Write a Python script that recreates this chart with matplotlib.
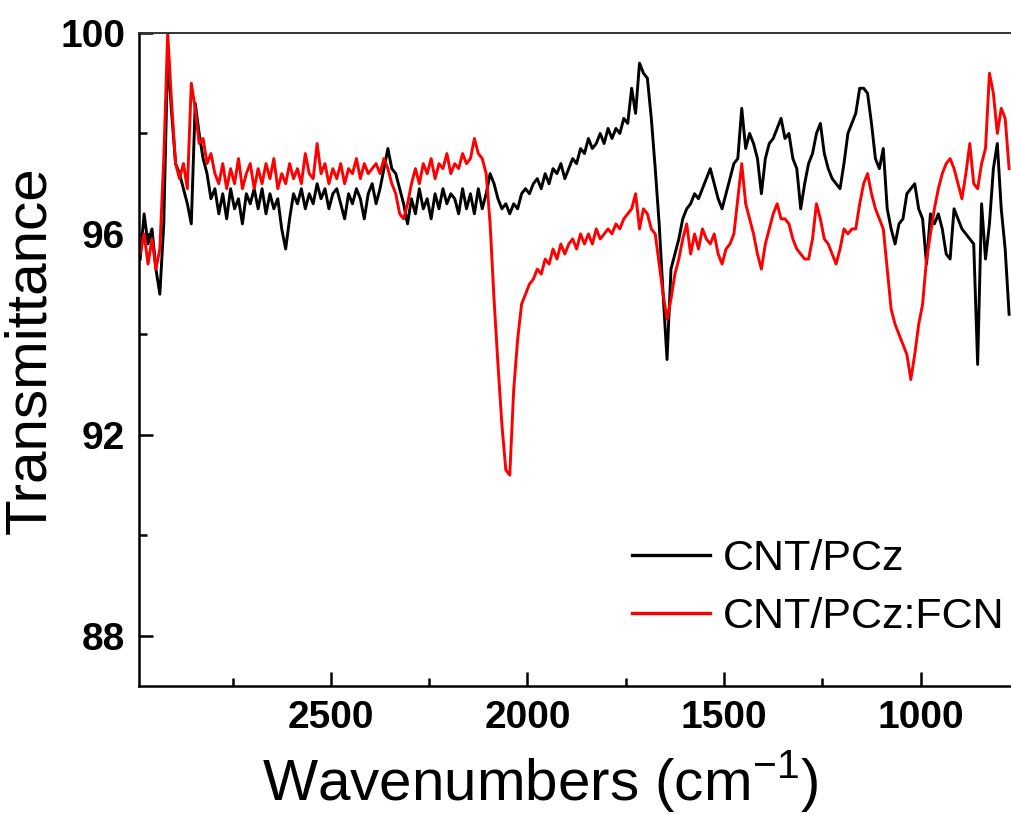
import numpy as np
import matplotlib
matplotlib.use("Agg")
import matplotlib.pyplot as plt
from matplotlib.ticker import MultipleLocator

# wavenumber grid (cm-1), one reading every 10 cm-1
wavenumbers = np.arange(2985, 770, -10)

# CNT/PCz (black)
cnt_pcz = [
    95.5, 96.4, 95.8, 96.1, 95.3, 94.8, 96.2, 99.6, 98.4, 97.4,
    97.2, 96.9, 96.6, 96.2, 98.6, 98.0, 97.5, 97.2, 96.7, 96.9,
    96.4, 96.8, 96.3, 96.9, 96.5, 96.7, 96.2, 96.8, 96.6, 96.9,
    96.5, 96.9, 96.4, 96.8, 96.5, 96.7, 96.1, 95.7, 96.3, 96.8,
    96.6, 96.9, 96.5, 96.8, 96.6, 97.0, 96.7, 96.9, 96.5, 96.8,
    96.9, 96.6, 96.3, 96.8, 96.6, 96.9, 96.7, 96.3, 96.8, 97.0,
    96.6, 96.9, 97.3, 97.7, 97.3, 97.2, 96.9, 96.6, 96.2, 96.7,
    96.4, 96.9, 96.5, 96.7, 96.3, 96.8, 96.5, 96.9, 96.6, 96.8,
    96.7, 96.4, 96.9, 96.5, 96.8, 96.4, 96.9, 96.5, 96.8, 97.2,
    97.0, 96.7, 96.5, 96.6, 96.4, 96.6, 96.5, 96.8, 96.9, 96.8,
    97.0, 97.1, 96.9, 97.2, 97.0, 97.3, 97.2, 97.4, 97.1, 97.3,
    97.5, 97.4, 97.7, 97.6, 97.9, 97.7, 97.8, 98.0, 97.8, 98.1,
    97.9, 98.1, 98.0, 98.3, 98.2, 98.9, 98.4, 99.4, 99.2, 99.1,
    98.3, 97.3, 96.2, 94.8, 93.5, 95.3, 95.6, 95.9, 96.3, 96.5,
    96.6, 96.8, 96.7, 96.9, 97.1, 97.3, 97.0, 96.7, 96.5, 96.8,
    97.1, 97.4, 97.5, 98.5, 97.7, 98.0, 97.8, 97.5, 96.8, 97.5,
    97.8, 97.9, 98.1, 98.3, 97.9, 98.0, 97.5, 97.3, 96.5, 97.0,
    97.4, 97.6, 98.0, 98.2, 97.6, 97.3, 97.1, 97.0, 96.9, 97.4,
    98.0, 98.2, 98.4, 98.9, 98.9, 98.8, 98.2, 97.5, 97.3, 97.7,
    96.5, 96.1, 95.8, 96.2, 96.3, 96.8, 96.9, 97.0, 96.5, 96.3,
    95.4, 96.4, 96.2, 96.4, 96.1, 95.6, 95.5, 96.5, 96.3, 96.1,
    96.0, 95.9, 95.8, 93.4, 96.6, 95.5, 96.2, 97.3, 97.8, 96.5, 95.7, 94.4,
]

# CNT/PCz:FCN (red)
cnt_pcz_fcn = [
    95.6, 96.0, 95.4, 95.9, 95.3, 95.7, 97.5, 100.0, 98.6, 97.4,
    97.1, 97.4, 96.9, 99.0, 98.5, 97.8, 97.9, 97.4, 97.6, 97.2,
    97.0, 97.4, 96.9, 97.3, 97.0, 97.5, 96.9, 97.2, 97.4, 96.9,
    97.3, 97.0, 97.4, 97.1, 97.5, 96.9, 97.2, 97.0, 97.4, 97.1,
    97.3, 97.0, 97.6, 97.2, 97.1, 97.8, 97.2, 97.4, 97.0, 97.3,
    97.1, 97.4, 97.0, 97.3, 97.2, 97.5, 97.1, 97.4, 97.2, 97.3,
    97.4, 97.2, 97.5, 97.3, 97.0, 96.8, 96.4, 96.3, 96.6, 97.0,
    97.3, 97.0, 97.4, 97.2, 97.5, 97.1, 97.4, 97.3, 97.6, 97.2,
    97.4, 97.3, 97.6, 97.4, 97.5, 97.9, 97.6, 97.5, 97.2, 96.2,
    94.7, 93.4, 92.2, 91.3, 91.2, 92.9, 93.9, 94.6, 94.8, 95.0,
    95.1, 95.3, 95.2, 95.5, 95.4, 95.7, 95.5, 95.8, 95.6, 95.8,
    95.9, 95.7, 96.0, 95.8, 96.0, 95.8, 96.1, 95.9, 96.0, 96.1,
    96.0, 96.2, 96.1, 96.3, 96.4, 96.5, 96.8, 96.1, 96.5, 96.4,
    96.1, 96.0, 95.4, 94.8, 94.3, 94.7, 95.2, 95.5, 95.9, 96.2,
    95.6, 96.0, 95.7, 96.1, 95.9, 95.8, 96.0, 95.6, 95.4, 95.7,
    95.8, 96.0, 96.7, 97.4, 96.6, 96.3, 96.0, 95.6, 95.3, 95.8,
    96.1, 96.4, 96.6, 96.3, 96.3, 96.2, 95.9, 95.7, 95.6, 95.5,
    95.5, 95.9, 96.6, 96.3, 95.9, 95.8, 95.6, 95.4, 95.7, 96.1,
    96.0, 96.1, 96.1, 96.6, 97.0, 97.2, 96.8, 96.5, 96.3, 96.1,
    95.3, 94.5, 94.2, 94.0, 93.8, 93.6, 93.1, 93.6, 94.2, 94.6,
    95.5, 96.0, 96.5, 96.9, 97.2, 97.4, 97.5, 97.3, 97.0, 96.7,
    97.2, 97.8, 97.0, 96.9, 97.4, 97.7, 99.2, 98.8, 98.0, 98.5, 98.3, 97.3,
]

labels = ["CNT/PCz", "CNT/PCz:FCN"]
colors = ["black", "#ff0000"]

plt.rcParams["font.family"] = ["Liberation Sans", "DejaVu Sans"]
plt.rcParams["mathtext.fontset"] = "custom"
plt.rcParams["mathtext.rm"] = "Liberation Sans"

fig = plt.figure(figsize=(10.11, 8.14), dpi=100)
ax = fig.add_axes([139 / 1011, 128 / 814, 876 / 1011, 653 / 814])

for ys, lab, col in zip([cnt_pcz, cnt_pcz_fcn], labels, colors):
    ax.plot(wavenumbers, ys, color=col, lw=2.1, label=lab)

ax.set_xlim(2988, 760)
ax.set_ylim(87, 100)
ax.xaxis.set_major_locator(MultipleLocator(500))
ax.xaxis.set_minor_locator(MultipleLocator(250))
ax.yaxis.set_major_locator(MultipleLocator(4))
ax.yaxis.set_minor_locator(MultipleLocator(2))

ax.tick_params(which="both", direction="in", width=1.8, top=False, right=False)
ax.tick_params(which="major", length=10, labelsize=28, pad=10)
ax.tick_params(which="minor", length=5.5)
for t in ax.get_xticklabels() + ax.get_yticklabels():
    t.set_fontweight("bold")

for side in ["left", "bottom"]:
    ax.spines[side].set_linewidth(1.8)
ax.spines["top"].set_linewidth(1.4)
ax.spines["top"].set_color("#333333")
ax.spines["right"].set_visible(False)

fig.text(30 / 1011, 1 - 350 / 814, "Transmittance", rotation=90,
         ha="center", va="center", fontsize=42)
fig.text(540 / 1011, 1 - 782 / 814, r"Wavenumbers (cm$^{\mathregular{-1}}$)",
         ha="center", va="center", fontsize=42)

leg = ax.legend(loc="upper left", bbox_to_anchor=(632 / 1011, 1 - 539 / 814),
                bbox_transform=fig.transFigure, frameon=False, fontsize=31,
                handlelength=1.8, handletextpad=0.3, labelspacing=0.42,
                borderpad=0, borderaxespad=0)
for line in leg.get_lines():
    line.set_linewidth(2.4)

fig.savefig("out.png", dpi=100)
plt.close(fig)
